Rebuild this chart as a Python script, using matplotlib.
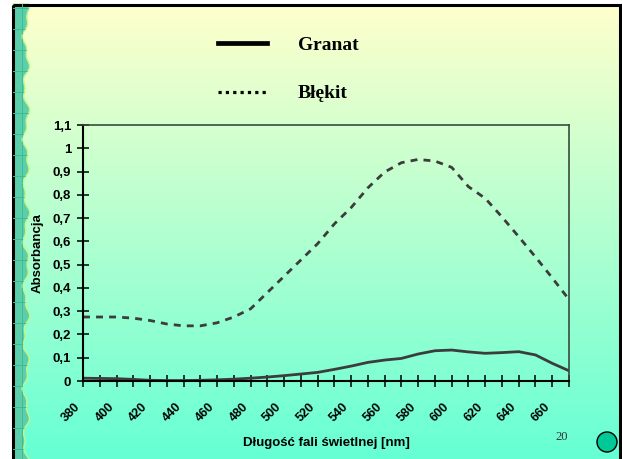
import numpy as np
import matplotlib
matplotlib.use("Agg")
import matplotlib.pyplot as plt
from matplotlib.lines import Line2D
from matplotlib.patches import Rectangle, Circle, Polygon

plt.rcParams['font.family'] = ['Liberation Sans', 'DejaVu Sans']

# data
wavelength = [380, 390, 400, 410, 420, 430, 440, 450, 460, 470,
              480, 490, 500, 510, 520, 530, 540, 550, 560, 570,
              580, 590, 600, 610, 620, 630, 640, 650, 660, 670]
granat = [0.012, 0.011, 0.010, 0.007, 0.003, 0.002, 0.002, 0.003, 0.005, 0.008,
          0.012, 0.017, 0.023, 0.030, 0.037, 0.050, 0.064, 0.080, 0.090, 0.097,
          0.116, 0.130, 0.133, 0.125, 0.119, 0.122, 0.126, 0.112, 0.076, 0.044]
blekit = [0.275, 0.275, 0.275, 0.270, 0.260, 0.245, 0.237, 0.237, 0.250, 0.275,
          0.310, 0.380, 0.450, 0.520, 0.590, 0.675, 0.745, 0.830, 0.898, 0.938,
          0.952, 0.945, 0.918, 0.835, 0.785, 0.705, 0.620, 0.533, 0.443, 0.350]
series_names = ["Granat", "Błękit"]
x_labels = ["380", "", "400", "", "420", "", "440", "", "460", "", "480", "", "500", "",
            "520", "", "540", "", "560", "", "580", "", "600", "", "620", "", "640", "",
            "660", ""]
y_ticks = [0, 0.1, 0.2, 0.3, 0.4, 0.5, 0.6, 0.7, 0.8, 0.9, 1.0, 1.1]
y_labels = ["0", "0,1", "0,2", "0,3", "0,4", "0,5", "0,6", "0,7", "0,8", "0,9", "1", "1,1"]

W, H = 622, 459
fig = plt.figure(figsize=(W / 100, H / 100), dpi=100)
fig.patch.set_facecolor('white')

# slide background (pixel coordinates)
bg = fig.add_axes([0, 0, 1, 1], zorder=0)
bg.set_xlim(0, W)
bg.set_ylim(H, 0)
bg.axis('off')
top = np.array([255, 255, 204]) / 255
bot = np.array([100, 255, 212]) / 255
t = np.linspace(0, 1, 256)[:, None]
grad = (top * (1 - t) + bot * t)[:, None, :]
bg.imshow(grad, extent=[12, 620, H + 5, 4], aspect='auto', interpolation='bilinear')

# left decorative strip with wavy edge
ys = np.linspace(4, H + 5, 160)
edge = 26 + 2.5 * np.sin(ys / 8.0) + 1.5 * np.sin(ys / 3.3)
strip = Polygon(np.column_stack([np.r_[13, edge, 13], np.r_[4, ys, H + 5]]),
                closed=True, facecolor='#5ccfaa', edgecolor='#c4f58a', lw=1.0)
bg.add_patch(strip)
for yy in np.arange(8, H, 21):
    ln = bg.plot([13, 40], [yy, yy], color='#3dbd96', lw=0.7)[0]
    ln.set_clip_path(strip)
ln = bg.plot([22, 22], [4, H + 5], color='#3dbd96', lw=0.7)[0]
ln.set_clip_path(strip)

bg.add_patch(Rectangle((12.5, 5), 607.5, H + 10, fill=False, edgecolor='black', lw=2.2))
bg.add_patch(Circle((607, 442), 10, facecolor='#00c896', edgecolor='black', lw=1.0))
bg.text(562, 437, "20", family='Liberation Serif', fontsize=9, color='#333333',
        ha='center', va='center')

# chart
ax = fig.add_axes([83 / W, (H - 381) / H, 486 / W, 256 / H], zorder=2)
ax.patch.set_alpha(0)
ax.plot(wavelength, blekit, color='#3c3c3c', lw=2.0, dashes=(2.5, 2.2))
ax.plot(wavelength, granat, color='#3c3c3c', lw=2.0)
ax.set_xlim(380, 670)
ax.set_ylim(0, 1.1)
ax.set_xticks(wavelength)
ax.set_xticklabels(x_labels, rotation=45, ha='right', va='top',
                   fontweight='bold', fontsize=9)
ax.set_yticks(y_ticks)
ax.set_yticklabels(y_labels, fontweight='bold', fontsize=9.5)
ax.tick_params(direction='inout', length=8, width=1.1, color='black')
ax.tick_params(axis='x', pad=10)
ax.tick_params(axis='y', pad=4.5)
for s in ['left', 'bottom']:
    ax.spines[s].set_linewidth(1.5)
    ax.spines[s].set_color('black')
for s in ['top', 'right']:
    ax.spines[s].set_linewidth(1.2)
    ax.spines[s].set_color('#3a4a40')

ax.set_ylabel("Absorbancja", fontweight='bold', fontsize=9.5)
ax.yaxis.set_label_coords((44 - 83) / 486, 0.5)
ax.set_xlabel("Długość fali świetlnej [nm]", fontweight='bold', fontsize=9.5)
ax.xaxis.set_label_coords(0.5, (381 - 437) / 256)

handles = [Line2D([], [], color='black', lw=3.4),
           Line2D([], [], color='black', lw=2.3, dashes=(1, 1.3))]
fig.legend(handles, series_names, loc='upper left', bbox_to_anchor=(218 / W, 1 - 36 / H),
           frameon=False, prop=dict(family='Liberation Serif', weight='bold', size=14),
           handlelength=2.5, handletextpad=1.6, labelspacing=1.6, borderpad=0,
           borderaxespad=0)

fig.savefig("out.png", dpi=100)
